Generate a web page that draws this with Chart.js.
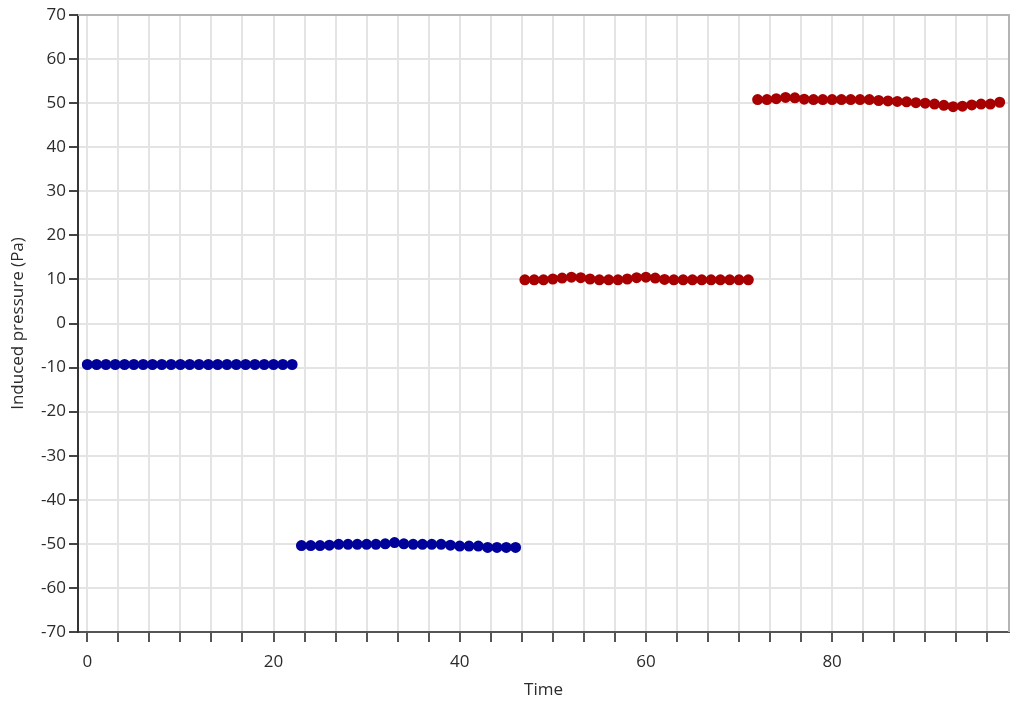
<!DOCTYPE html>
<html>
<head>
<meta charset="utf-8">
<script src="https://cdn.jsdelivr.net/npm/chart.js@4.4.1/dist/chart.umd.min.js"></script>
<style>
  html, body { margin: 0; padding: 0; background: #fff; }
  #wrap { width: 1024px; height: 707px; }
</style>
</head>
<body>
<div id="wrap"><canvas id="chart"></canvas></div>
<script>
// time steps of each run
const time1 = [0,1,2,3,4,5,6,7,8,9,10,11,12,13,14,15,16,17,18,19,20,21,22];
const time2 = [23,24,25,26,27,28,29,30,31,32,33,34,35,36,37,38,39,40,41,42,43,44,45,46];
const time3 = [47,48,49,50,51,52,53,54,55,56,57,58,59,60,61,62,63,64,65,66,67,68,69,70,71];
const time4 = [72,73,74,75,76,77,78,79,80,81,82,83,84,85,86,87,88,89,90,91,92,93,94,95,96,97,98];

// induced pressure (Pa)
const pressure1 = [-9.3,-9.3,-9.3,-9.3,-9.3,-9.3,-9.3,-9.3,-9.3,-9.3,-9.3,-9.3,-9.3,-9.3,-9.3,-9.3,-9.3,-9.3,-9.3,-9.3,-9.3,-9.3,-9.3];
const pressure2 = [-50.4,-50.4,-50.4,-50.3,-50.1,-50.1,-50.1,-50.1,-50.1,-50.0,-49.7,-50.0,-50.1,-50.1,-50.1,-50.1,-50.3,-50.5,-50.5,-50.5,-50.8,-50.8,-50.8,-50.8];
const pressure3 = [9.9,9.9,9.9,10.1,10.3,10.5,10.4,10.1,9.9,9.9,9.9,10.1,10.4,10.5,10.3,10.0,9.9,9.9,9.9,9.9,9.9,9.9,9.9,9.9,9.9];
const pressure4 = [50.8,50.8,51.0,51.3,51.2,50.9,50.8,50.8,50.8,50.8,50.8,50.8,50.8,50.6,50.5,50.4,50.3,50.1,50.0,49.8,49.5,49.2,49.3,49.6,49.8,49.8,50.2];

// axis ticks
const xTicks = [];
for (let i = 0; i <= 29; i++) xTicks.push(i * 10 / 3);
const xLabelValues = [0, 20, 40, 60, 80];

const BLUE = "#00009a";
const RED = "#a80000";

function series(times, values, color) {
  return {
    data: times.map((t, i) => ({ x: t, y: values[i] })),
    borderColor: color,
    backgroundColor: color,
    pointBackgroundColor: color,
    pointBorderColor: color,
    borderWidth: 3,
    pointRadius: 4,
    pointHoverRadius: 4,
    tension: 0,
  };
}

const frame = {
  id: "frame",
  afterDraw(chart) {
    const { ctx, chartArea } = chart;
    ctx.save();
    ctx.strokeStyle = "#b4b4b4";
    ctx.lineWidth = 2;
    ctx.beginPath();
    ctx.moveTo(chartArea.left, chartArea.top);
    ctx.lineTo(chartArea.right, chartArea.top);
    ctx.lineTo(chartArea.right, chartArea.bottom);
    ctx.stroke();
    ctx.restore();
  },
};

const tickFont = { family: "'Open Sans', 'Noto Sans', sans-serif", size: 17 };
const titleFont = { family: "'Open Sans', 'Noto Sans', sans-serif", size: 17 };

new Chart(document.getElementById("chart"), {
  type: "line",
  data: {
    datasets: [
      series(time1, pressure1, BLUE),
      series(time2, pressure2, BLUE),
      series(time3, pressure3, RED),
      series(time4, pressure4, RED),
    ],
  },
  options: {
    responsive: true,
    maintainAspectRatio: false,
    animation: false,
    layout: { padding: { top: 15, right: 15, left: 0, bottom: 0 } },
    plugins: {
      legend: { display: false },
      tooltip: { enabled: false },
    },
    scales: {
      x: {
        type: "linear",
        min: -1,
        max: 99,
        afterBuildTicks(scale) {
          scale.ticks = xTicks.map((v) => ({ value: v }));
        },
        afterFit(scale) {
          scale.height = 75;
        },
        ticks: {
          autoSkip: false,
          maxRotation: 0,
          color: "#2b2b2b",
          font: tickFont,
          padding: 10,
          callback(value) {
            const r = Math.round(value);
            return Math.abs(value - r) < 0.01 && xLabelValues.includes(r) ? String(r) : "";
          },
        },
        grid: {
          color: "#e4e4e4",
          lineWidth: 2,
          tickLength: 10,
          tickColor: "#555",
          tickWidth: 2,
        },
        border: { color: "#555", width: 2 },
        title: {
          display: true,
          text: "Time",
          color: "#2b2b2b",
          font: titleFont,
          padding: { top: 0, bottom: 7 },
        },
      },
      y: {
        min: -70,
        max: 70,
        afterFit(scale) {
          scale.width = 78;
        },
        ticks: {
          stepSize: 10,
          color: "#2b2b2b",
          font: tickFont,
          padding: 3,
        },
        grid: {
          color: "#e4e4e4",
          lineWidth: 2,
          tickLength: 9,
          tickColor: "#444",
          tickWidth: 2,
        },
        border: { color: "#333", width: 2 },
        title: {
          display: true,
          text: "Induced pressure (Pa)",
          color: "#2b2b2b",
          font: titleFont,
          padding: { top: 8, bottom: 0 },
        },
      },
    },
  },
  plugins: [frame],
});
</script>
</body>
</html>
